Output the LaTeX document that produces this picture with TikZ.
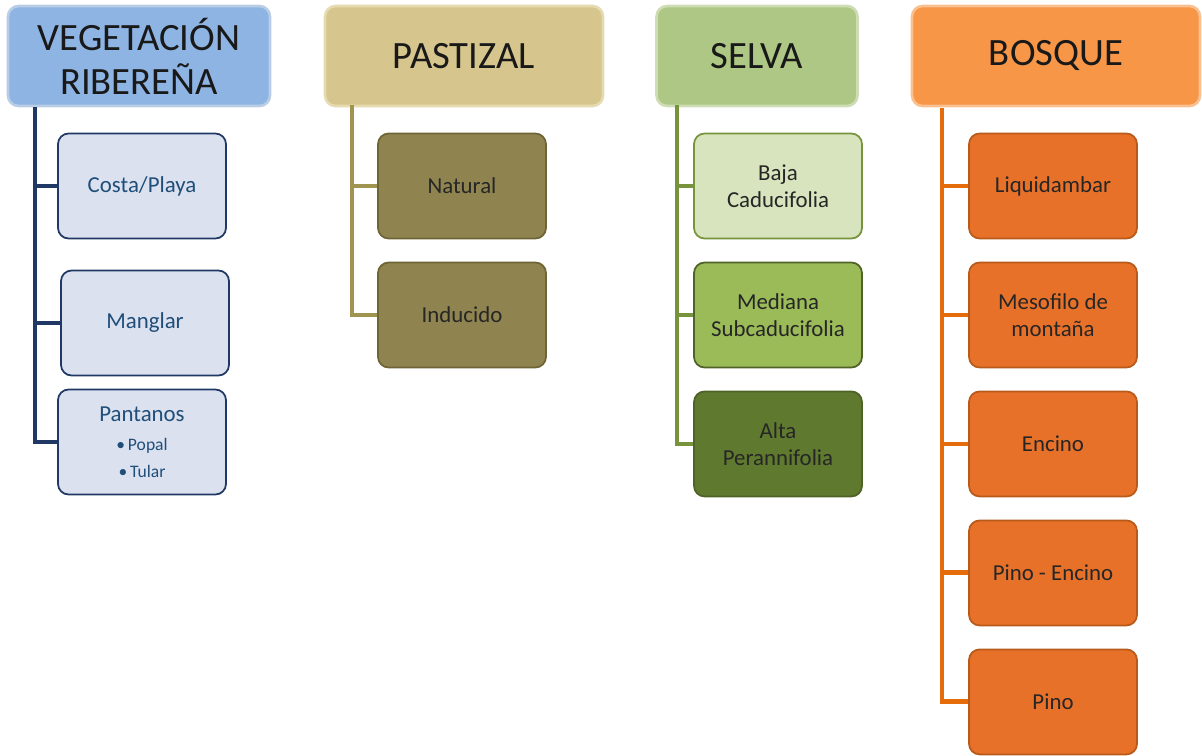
\documentclass[tikz,border=0pt]{standalone}
\usepackage{fontspec}
\setmainfont{Carlito}
\usepackage{xcolor}
\usetikzlibrary{positioning}
\definecolor{riberhead}{HTML}{8DB4E2}
\definecolor{riberedge}{HTML}{B9CDE5}
\definecolor{riberleaf}{HTML}{DCE1F0}
\definecolor{ribernavy}{HTML}{1F3864}
\definecolor{ribertext}{HTML}{1F4E79}
\definecolor{pasthead}{HTML}{D6C58C}
\definecolor{pastedge}{HTML}{E6DBB0}
\definecolor{pastleaf}{HTML}{8F8450}
\definecolor{pastdark}{HTML}{6E6436}
\definecolor{pastline}{HTML}{A09550}
\definecolor{selvahead}{HTML}{AEC784}
\definecolor{selvaedge}{HTML}{CFDDB5}
\definecolor{selvabaja}{HTML}{D7E4BD}
\definecolor{selvamed}{HTML}{9BBB59}
\definecolor{selvaalta}{HTML}{5F7A2F}
\definecolor{selvaline}{HTML}{77933C}
\definecolor{selvadark}{HTML}{4F6228}
\definecolor{bosqhead}{HTML}{F79646}
\definecolor{bosqedge}{HTML}{FAC090}
\definecolor{bosqleaf}{HTML}{E8712A}
\definecolor{bosqdark}{HTML}{B85A1A}
\definecolor{bosqline}{HTML}{E46C0A}
\tikzstyle{head} = [draw, rectangle, rounded corners=6pt, minimum height=2cm, line width=1.5pt, text=black!90, align=center, font=\fontsize{22}{25}\selectfont]
\tikzstyle{leaf} = [draw, rectangle, rounded corners=6pt, minimum width=3.36cm, minimum height=2.1cm, line width=1pt, text=black!85, align=center, font=\fontsize{13}{15.5}\selectfont]
\tikzstyle{branch} = [line width=2.8pt]
\tikzstyle{root} = [coordinate]

\begin{document}
\begin{tikzpicture}[x=0.02cm, y=-0.02cm, node distance=2.58cm]
  \useasboundingbox (0,0) rectangle (1202,755);

  \node [head, fill=riberhead, draw=riberedge, minimum width=5.24cm] (riber) at (139,56) {VEGETACIÓN\\RIBEREÑA};
  \node [head, fill=pasthead, draw=pastedge, minimum width=5.56cm] (pastizal) at (464,56) {PASTIZAL};
  \node [head, fill=selvahead, draw=selvaedge, minimum width=4.02cm] (selva) at (757,56) {SELVA};
  \node [head, fill=bosqhead, draw=bosqedge, minimum width=5.76cm] (bosque) at (1056,56) {BOSQUE};

  \node [leaf, fill=riberleaf, draw=ribernavy, text=ribertext] (costa) at (142,186) {Costa/Playa};
  \node [leaf, fill=riberleaf, draw=ribernavy, text=ribertext] (manglar) at (145,323) {Manglar};
  \node [leaf, fill=riberleaf, draw=ribernavy, text=ribertext] (pantanos) at (142,442) {Pantanos\\[1pt]{\fontsize{10}{11.5}\selectfont\textbullet\,Popal}\\{\fontsize{10}{11.5}\selectfont\textbullet\,Tular}};

  \node [leaf, fill=pastleaf, draw=pastdark] (natural) at (462,186) {Natural};
  \node [leaf, fill=pastleaf, draw=pastdark, below of=natural] (inducido) {Inducido};

  \node [leaf, fill=selvabaja, draw=selvaline] (baja) at (778,186) {Baja\\Caducifolia};
  \node [leaf, fill=selvamed, draw=selvadark, below of=baja] (mediana) {Mediana\\Subcaducifolia};
  \node [leaf, fill=selvaalta, draw=selvadark, below of=mediana] (alta) {Alta\\Perannifolia};

  \node [leaf, fill=bosqleaf, draw=bosqdark] (liquid) at (1053,186) {Liquidambar};
  \node [leaf, fill=bosqleaf, draw=bosqdark, below of=liquid] (mesofilo) {Mesofilo de\\montaña};
  \node [leaf, fill=bosqleaf, draw=bosqdark, below of=mesofilo] (encino) {Encino};
  \node [leaf, fill=bosqleaf, draw=bosqdark, below of=encino] (pinoenc) {Pino - Encino};
  \node [leaf, fill=bosqleaf, draw=bosqdark, below of=pinoenc] (pino) {Pino};

  \node [root] (riberroot) at (35,107) {};
  \node [root] (pastroot) at (352,105) {};
  \node [root] (selvaroot) at (677,105) {};
  \node [root] (bosqroot) at (942,108) {};

  \draw [branch, ribernavy] (riberroot) |- (costa.west);
  \draw [branch, ribernavy] (riberroot) |- (manglar.west);
  \draw [branch, ribernavy] (riberroot) |- (pantanos.west);
  \draw [branch, pastline] (pastroot) |- (natural.west);
  \draw [branch, pastline] (pastroot) |- (inducido.west);
  \draw [branch, selvaline] (selvaroot) |- (baja.west);
  \draw [branch, selvaline] (selvaroot) |- (mediana.west);
  \draw [branch, selvaline] (selvaroot) |- (alta.west);
  \draw [branch, bosqline] (bosqroot) |- (liquid.west);
  \draw [branch, bosqline] (bosqroot) |- (mesofilo.west);
  \draw [branch, bosqline] (bosqroot) |- (encino.west);
  \draw [branch, bosqline] (bosqroot) |- (pinoenc.west);
  \draw [branch, bosqline] (bosqroot) |- (pino.west);
\end{tikzpicture}
\end{document}
